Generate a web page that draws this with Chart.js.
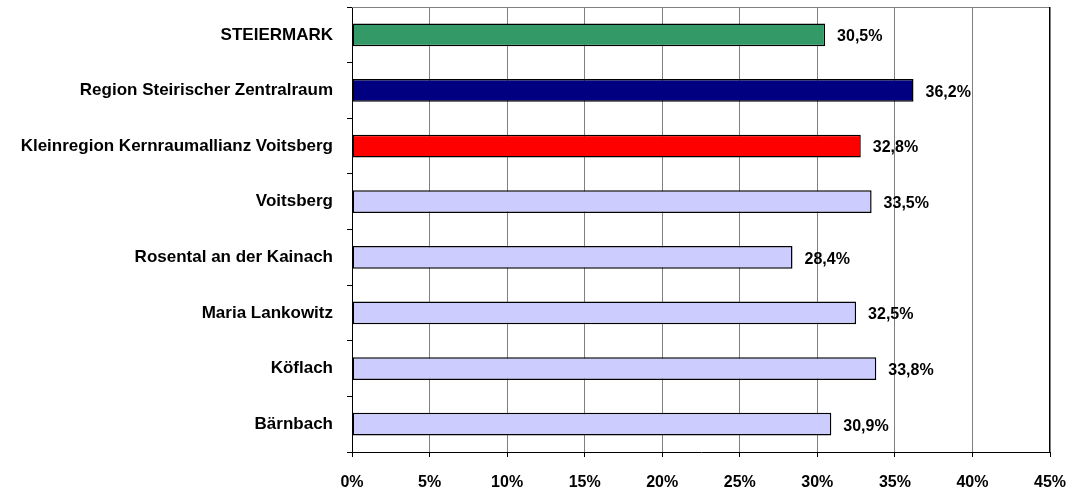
<!DOCTYPE html>
<html>
<head>
<meta charset="utf-8">
<script src="https://cdn.jsdelivr.net/npm/chart.js@4.4.1/dist/chart.umd.min.js"></script>
<style>
  html, body { margin: 0; padding: 0; background: #fff; }
  #wrap { width: 1073px; height: 496px; position: relative; }
</style>
</head>
<body>
<div id="wrap"><canvas id="chart"></canvas></div>
<script>
// Categories and values
const categories = [
  'STEIERMARK',
  'Region Steirischer Zentralraum',
  'Kleinregion Kernraumallianz Voitsberg',
  'Voitsberg',
  'Rosental an der Kainach',
  'Maria Lankowitz',
  'Köflach',
  'Bärnbach',
];
const shares = [30.5, 36.2, 32.8, 33.5, 28.4, 32.5, 33.8, 30.9];
const barColors = ['#339966', '#000080', '#FF0000', '#CCCCFF', '#CCCCFF', '#CCCCFF', '#CCCCFF', '#CCCCFF'];
const xTicks = [0, 5, 10, 15, 20, 25, 30, 35, 40, 45];

const FONT = '"Liberation Sans", Arial, sans-serif';

// Value labels to the right of each bar
const valueLabels = {
  id: 'valueLabels',
  afterDatasetsDraw(chart) {
    const { ctx } = chart;
    const meta = chart.getDatasetMeta(0);
    ctx.save();
    ctx.font = 'bold 16px ' + FONT;
    ctx.fillStyle = '#000';
    ctx.textBaseline = 'middle';
    ctx.textAlign = 'left';
    meta.data.forEach((bar, i) => {
      ctx.fillText(shares[i].toFixed(1).replace('.', ',') + '%', bar.x + 12, bar.y + 2);
    });
    ctx.restore();
  },
};

// Frame round the plot area
const frame = {
  id: 'frame',
  beforeDatasetsDraw(chart) {
    const { ctx, chartArea: a } = chart;
    ctx.save();
    ctx.strokeStyle = '#808080';
    ctx.lineWidth = 1;
    ctx.beginPath();
    ctx.moveTo(a.left, a.top + 0.5);
    ctx.lineTo(a.right, a.top + 0.5);
    ctx.stroke();
    ctx.strokeStyle = '#000';
    ctx.beginPath();
    ctx.moveTo(a.right - 0.5, a.top);
    ctx.lineTo(a.right - 0.5, a.bottom);
    ctx.stroke();
    ctx.restore();
  },
};

const ctx = document.getElementById('chart');
new Chart(ctx, {
  type: 'bar',
  data: {
    labels: categories,
    datasets: [{
      data: shares,
      backgroundColor: barColors,
      borderColor: '#000',
      borderWidth: 1.5,
      borderSkipped: false,
      barPercentage: 0.41,
      categoryPercentage: 1,
    }],
  },
  options: {
    indexAxis: 'y',
    responsive: true,
    maintainAspectRatio: false,
    animation: false,
    devicePixelRatio: 1,
    layout: {
      padding: { top: 7, right: 23, bottom: 0, left: 0 },
    },
    scales: {
      x: {
        min: 0,
        max: 45,
        afterBuildTicks: (axis) => { axis.ticks = xTicks.map((v) => ({ value: v })); },
        afterFit: (axis) => {
          axis.height = 44;
          axis.paddingLeft = 0;
          axis.paddingRight = 0;
        },
        grid: {
          color: '#808080',
          tickColor: '#000',
          tickLength: 5,
          lineWidth: 1,
        },
        border: { color: '#000', width: 1 },
        ticks: {
          color: '#000',
          font: { family: FONT, size: 16, weight: 'bold' },
          padding: 16,
          maxRotation: 0,
          callback: (v) => v + '%',
        },
      },
      y: {
        afterFit: (axis) => {
          axis.width = 352;
          axis.paddingTop = 0;
          axis.paddingBottom = 0;
        },
        grid: {
          offset: true,
          drawOnChartArea: false,
          tickColor: '#000',
          tickLength: 5,
        },
        border: { color: '#000', width: 1 },
        ticks: {
          color: '#000',
          font: { family: FONT, size: 17, weight: 'bold' },
          padding: 14,
        },
      },
    },
    plugins: {
      legend: { display: false },
      tooltip: { enabled: false },
    },
  },
  plugins: [frame, valueLabels],
});
</script>
</body>
</html>
